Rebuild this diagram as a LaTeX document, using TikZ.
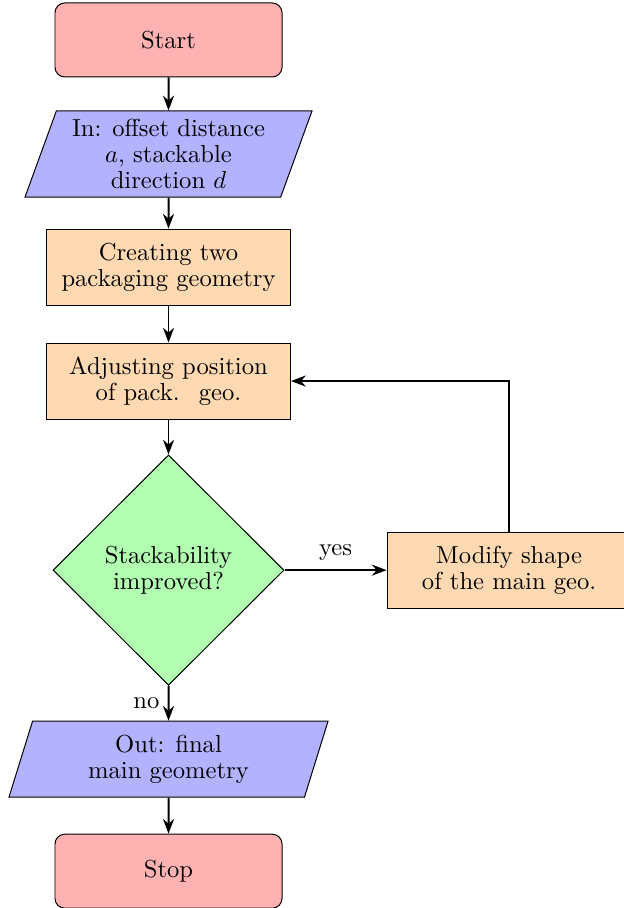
\documentclass[tikz,border=0pt]{standalone}
\usepackage{amsmath}
\usepackage{tikz}
\usetikzlibrary{shapes.geometric, arrows.meta}

\tikzset{
    base/.style={draw=black, text centered, align=center, font=\fontsize{10}{10.6}\selectfont},
    startstop/.style={base, rectangle, rounded corners, minimum width=3.243cm, minimum height=1.057cm, fill=red!30},
    io/.style={base, trapezium, trapezium left angle=70, trapezium right angle=110, trapezium stretches body, fill=blue!30},
    process/.style={base, rectangle, minimum width=3.486cm, minimum height=1.086cm, fill=orange!30},
    decision/.style={base, diamond, aspect=1, minimum width=3.30cm, minimum height=3.29cm, fill=green!30},
    arrow/.style={thick, -{Stealth[length=6pt, width=4.5pt]}}
}

\begin{document}
\begin{tikzpicture}
    \useasboundingbox (0, 0) rectangle (8.90, -12.97);

    % Main column
    \node[startstop] (start) at (2.407, -0.571) {Start};
    \node[io, minimum width=4.10cm, minimum height=1.229cm] (input) at (2.407, -2.200)
        {In: offset distance\\ $a$, stackable\\ direction $d$};
    \node[process] (create) at (2.407, -3.815) {Creating two\\ packaging geometry};
    \node[process] (adjust) at (2.407, -5.443) {Adjusting position\\ of pack.~ geo.};
    \node[decision] (stack) at (2.407, -8.144) {Stackability\\ improved?};
    \node[io, minimum width=4.558cm, minimum height=1.086cm] (output) at (2.407, -10.844)
        {Out: final\\ main geometry};
    \node[startstop] (stop) at (2.407, -12.444) {Stop};

    % Loop back
    \node[process] (modify) at (7.272, -8.144) {Modify shape\\ of the main geo.};

    % Connectors
    \draw[arrow] (start) -- (input);
    \draw[arrow] (input) -- (create);
    \draw[arrow] (create) -- (adjust);
    \draw[arrow] (adjust) -- (stack);
    \draw[arrow] (stack) -- node[anchor=south, font=\fontsize{10}{10.6}\selectfont] {yes} (modify);
    \draw[arrow] (modify.north) |- (adjust.east);
    \draw[arrow] (stack) -- node[anchor=east, font=\fontsize{10}{10.6}\selectfont] {no} (output);
    \draw[arrow] (output) -- (stop);
\end{tikzpicture}
\end{document}
